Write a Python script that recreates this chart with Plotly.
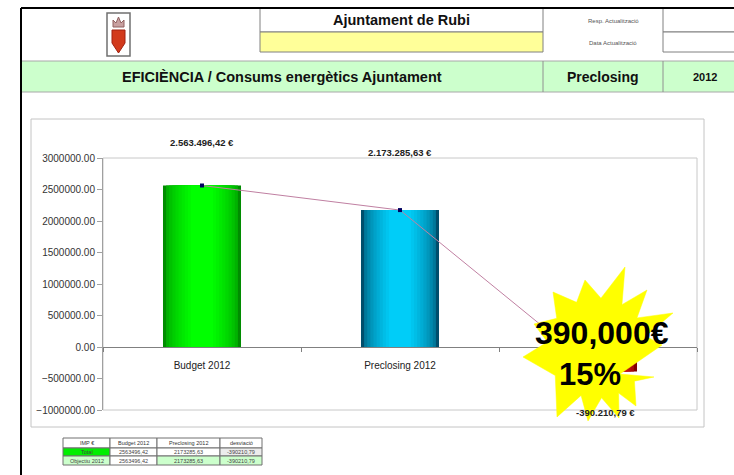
import math
import plotly.graph_objects as go

# ---------------- data ----------------
categories = ["Budget 2012", "Preclosing 2012", "Desviació 2012"]
values = [2563496.42, 2173285.63, -390210.79]
value_labels = ["2.563.496,42 €", "2.173.285,63 €", "-390.210,79 €"]
visible_tick_text = ["Budget 2012", "Preclosing 2012", ""]  # third label hidden under the starburst
y_ticks = [3000000, 2500000, 2000000, 1500000, 1000000, 500000, 0, -500000, -1000000]
savings_text = "390,000€"
savings_pct = "15%"
table_header = ["IMP €", "Budget 2012", "Preclosing 2012", "desviació"]
table_row_names = ["Total", "Objectiu 2012"]
table_budget = ["2563496,42", "2563496,42"]
table_preclosing = ["2173285,63", "2173285,63"]
table_deviation = ["-390210,79", "-390210,79"]

header_title = "Ajuntament de Rubi"
band_title = "EFICIÈNCIA / Consums energètics Ajuntament"
band_phase = "Preclosing"
band_year = "2012"
resp_label = "Resp. Actualització"
date_label = "Data Actualització"

# ---------------- geometry helpers ----------------
W, H = 734, 475


def px(x):
    return x / W


def py(y):
    return 1 - y / H


SANS = "Liberation Sans, Arial, sans-serif"

plot_l, plot_r, plot_t, plot_b = 103, 697, 158, 410
y_min, y_max = -1000000, 3000000
ydom = [py(plot_b), py(plot_t)]
zero_pos = ydom[0] + (0 - y_min) / (y_max - y_min) * (ydom[1] - ydom[0])

fig = go.Figure()

# ---------------- gradient bars (stacked overlay layers) ----------------
edge_cols = [(0, 140, 0), (0, 78, 108), (128, 0, 0)]
center_cols = [(0, 255, 0), (0, 205, 248), (255, 30, 30)]
N = 10
base_w = 0.394
for i in range(N):
    t = i / (N - 1)
    ease = math.sqrt(t)
    w = base_w * (1 - 0.72 * t)
    cols = []
    for e, c in zip(edge_cols, center_cols):
        r, g, b = (int(e[k] + (c[k] - e[k]) * ease) for k in range(3))
        cols.append(f"rgb({r},{g},{b})")
    fig.add_trace(go.Bar(
        x=categories, y=values, width=w,
        marker=dict(color=cols, line=dict(width=0)),
        showlegend=False, hoverinfo="skip",
    ))

# ---------------- line through bar tops ----------------
fig.add_trace(go.Scatter(
    x=categories, y=values, mode="lines+markers",
    line=dict(color="#c080a2", width=1),
    marker=dict(symbol="square", size=4, color="#000060"),
    showlegend=False, hoverinfo="skip",
))

shapes = []


def rect(x0, y0, x1, y1, fill="rgba(0,0,0,0)", line="#808080", lw=1, layer="below"):
    shapes.append(dict(type="rect", xref="paper", yref="paper",
                       x0=px(x0), x1=px(x1), y0=py(y1), y1=py(y0),
                       fillcolor=fill, line=dict(color=line, width=lw), layer=layer))


def hline(x0, x1, y, color="#808080", lw=1, layer="below"):
    shapes.append(dict(type="line", xref="paper", yref="paper",
                       x0=px(x0), x1=px(x1), y0=py(y), y1=py(y),
                       line=dict(color=color, width=lw), layer=layer))


def vline(x, y0, y1, color="#808080", lw=1, layer="below"):
    shapes.append(dict(type="line", xref="paper", yref="paper",
                       x0=px(x), x1=px(x), y0=py(y0), y1=py(y1),
                       line=dict(color=color, width=lw), layer=layer))


# header
rect(260, 8, 543, 32, fill="white")
rect(260, 32, 543, 52, fill="#ffff99")
rect(663, 8, 736, 32, fill="white")
rect(663, 32, 736, 52, fill="white")
rect(21, 61, 736, 92, fill="#ccffcc", line="#a8a8a8")
vline(543, 61, 92, color="#909090")
vline(663, 61, 92, color="#909090")
hline(21, 734, 8, color="black", lw=2)
vline(21, 8, 475, color="black", lw=2)

# logo (coat of arms)
rect(107, 13, 130, 56, fill="white", line="#707070", lw=1.5)
shapes.append(dict(type="path", xref="paper", yref="paper",
                   path=f"M {px(112)},{py(30)} L {px(125)},{py(30)} L {px(125)},{py(43)} "
                        f"L {px(118.5)},{py(53)} L {px(112)},{py(43)} Z",
                   fillcolor="#d23a1c", line=dict(color="#a02010", width=1), layer="below"))
shapes.append(dict(type="path", xref="paper", yref="paper",
                   path=f"M {px(113)},{py(27)} L {px(113)},{py(20)} L {px(116)},{py(23)} L {px(118.5)},{py(17)} "
                        f"L {px(121)},{py(23)} L {px(124)},{py(20)} L {px(124)},{py(27)} Z",
                   fillcolor="#c8a0a0", line=dict(color="#906060", width=1), layer="below"))

# chart area
rect(31, 119, 704, 427, fill="white", line="#c4c4c4")
# plot area border
shapes.append(dict(type="rect", xref="x domain", yref="y domain", x0=0, x1=1, y0=0, y1=1,
                   line=dict(color="#c8c8c8", width=1), layer="below"))

# table
cols_x = [63, 110, 157, 220, 262]
rows_y = [438, 448, 456, 465]
fills = [["white", "white", "white", "white"],
         ["#00ee00", "white", "white", "#ececec"],
         ["#ccffcc", "white", "#ccffcc", "#ccffcc"]]
for r in range(3):
    for c in range(4):
        rect(cols_x[c], rows_y[r], cols_x[c + 1], rows_y[r + 1], fill=fills[r][c], line="#707070")

# starburst
sc = (597, 348)
outer = [(625, 267), (647, 290), (673, 313), (662, 345), (654, 377), (636, 406), (619, 418),
         (588, 421), (557, 417), (523, 357), (534, 324), (553, 292), (585, 280)]
inner_r = [50, 50, 50, None, 50, 50, 50, 50, 50, 50, 50, 50, 50]
pts = []
n = len(outer)
for k in range(n):
    a = outer[k]
    b = outer[(k + 1) % n]
    pts.append(a)
    if inner_r[k] is None:
        pts.append((620, 374))  # notch that lets the red bar peek through
        continue
    aa = math.atan2(a[1] - sc[1], a[0] - sc[0])
    ab = math.atan2(b[1] - sc[1], b[0] - sc[0])
    if ab < aa:
        ab += 2 * math.pi
    am = (aa + ab) / 2
    pts.append((sc[0] + inner_r[k] * math.cos(am), sc[1] + inner_r[k] * math.sin(am)))
path = "M " + " L ".join(f"{px(x):.5f},{py(y):.5f}" for x, y in pts) + " Z"
shapes.append(dict(type="path", xref="paper", yref="paper", path=path,
                   fillcolor="#ffff00", line=dict(color="#ffff00", width=0.5), layer="above"))

# ---------------- annotations ----------------
ann = []


def text(x, y, s, size, color="#111111", bold=False, family=SANS, xanchor="center"):
    ann.append(dict(xref="paper", yref="paper", x=px(x), y=py(y), text=f"<b>{s}</b>" if bold else s,
                    showarrow=False, xanchor=xanchor, yanchor="middle",
                    font=dict(size=size, color=color, family=family)))


text(401, 20, header_title, 14.5, bold=True)
text(613, 21, resp_label, 6, color="#555555")
text(613, 43, date_label, 6, color="#555555")
text(282, 77, band_title, 14.5, bold=True)
text(603, 77, band_phase, 14, bold=True)
text(705, 77, band_year, 11, bold=True)

label_y = [142, 152, 412]
label_dx = [0, 0, 7]
for cat, lab, ly, dx in zip(categories, value_labels, label_y, label_dx):
    ann.append(dict(xref="x", yref="paper", x=cat, y=py(ly), xshift=dx, text=f"<b>{lab}</b>",
                    showarrow=False, yanchor="middle",
                    font=dict(size=9.5, color="#222222", family=SANS)))

# table texts
for c in range(4):
    text((cols_x[c] + cols_x[c + 1]) / 2, 443, table_header[c], 5.5, color="#333333")
for r in range(2):
    row = [table_row_names[r], table_budget[r], table_preclosing[r], table_deviation[r]]
    for c in range(4):
        text((cols_x[c] + cols_x[c + 1]) / 2, (rows_y[r + 1] + rows_y[r + 2]) / 2, row[c], 5.5,
             color="#444444")

text(602, 333, savings_text, 32, color="black", bold=True)
text(590, 374, savings_pct, 31, color="black", bold=True)

fig.update_layout(
    width=W, height=H,
    margin=dict(l=0, r=0, t=0, b=0),
    paper_bgcolor="white", plot_bgcolor="white",
    barmode="overlay",
    shapes=shapes, annotations=ann,
    xaxis=dict(domain=[px(plot_l), px(plot_r)], anchor="free", position=zero_pos,
               type="category", tickvals=categories, ticktext=visible_tick_text,
               showline=True, linecolor="#808080", linewidth=1,
               ticks="outside", ticklen=4, tickcolor="#808080", tickson="boundaries",
               ticklabelstandoff=9,
               showgrid=False, zeroline=False, automargin=False,
               tickfont=dict(size=10, color="#222222", family=SANS)),
    yaxis=dict(domain=ydom, range=[y_min, y_max], tickvals=y_ticks, tickformat=".2f",
               showline=True, linecolor="#a0a0a0", ticks="outside", ticklen=5, tickcolor="#a0a0a0",
               showgrid=False, zeroline=False, automargin=False,
               tickfont=dict(size=10, color="#333333", family=SANS)),
    showlegend=False,
)

fig.write_html("out.html", config={"displayModeBar": False},
               post_script="document.body.style.margin='0px';document.body.style.overflow='hidden';")
